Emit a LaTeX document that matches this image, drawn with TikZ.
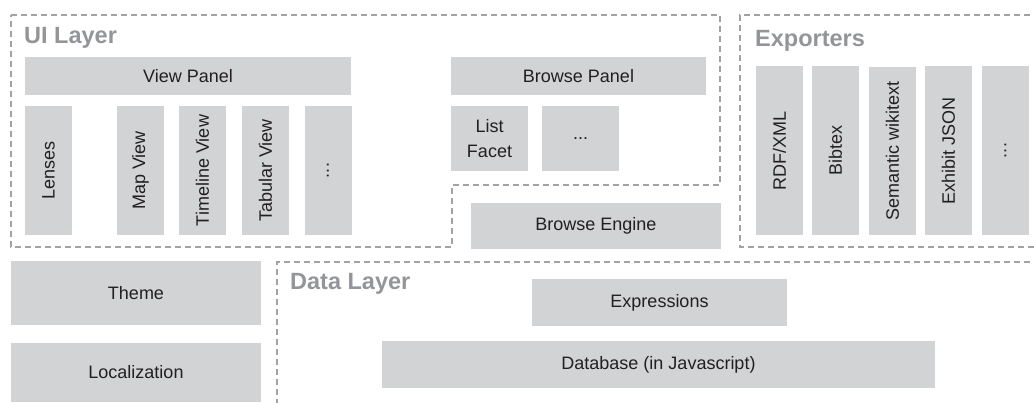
\documentclass[tikz,border=0pt]{standalone}
\usepackage{fontspec}
\setmainfont{Liberation Sans}
\definecolor{boxgray}{HTML}{D1D3D4}
\definecolor{textdark}{HTML}{231F20}
\definecolor{titlegray}{HTML}{939598}
\definecolor{dashgray}{HTML}{A0A2A5}
\begin{document}
\begin{tikzpicture}[x=1pt,y=-1pt,
  box/.style={fill=boxgray, inner sep=0pt, text=textdark, font=\fontsize{18}{21.6}\selectfont, align=center},
  vbox/.style={box, rotate=90},
  layer/.style={draw=dashgray, line width=2.4pt, dash pattern=on 6pt off 4pt},
  title/.style={anchor=base west, inner sep=0pt, text=titlegray, font=\fontsize{23.5}{28}\selectfont\bfseries}]
\useasboundingbox (0,0) rectangle (1034,402);
\clip (0,0) rectangle (1034,402);
% layers
\coordinate (ui1) at (11,15);
\coordinate (ui2) at (720,15);
\coordinate (ui3) at (720,185);
\coordinate (ui4) at (452,185);
\coordinate (ui5) at (452,247);
\coordinate (ui6) at (11,247);
\draw[layer] (ui1) -- (ui2) -- (ui3) -- (ui4) -- (ui5) -- (ui6) -- cycle;
\coordinate (ex1) at (1040,15);
\coordinate (ex2) at (740,15);
\coordinate (ex3) at (740,247);
\coordinate (ex4) at (1040,247);
\draw[layer] (ex1) -- (ex2) -- (ex3) -- (ex4);
\coordinate (dl1) at (277,405);
\coordinate (dl2) at (277,262);
\coordinate (dl3) at (1040,262);
\draw[layer] (dl1) -- (dl2) -- (dl3);
% titles
\node[title] (tui) at (24,43) {UI Layer};
\node[title] (tex) at (755,46) {Exporters};
\node[title] (tdl) at (290,289) {Data Layer};
% UI layer
\node[box, minimum width=326pt, minimum height=38pt] (viewpanel) at (188,76) {View Panel};
\node[vbox, minimum width=129pt, minimum height=47pt] (lenses) at (48.5,170.5) {Lenses};
\node[vbox, minimum width=129pt, minimum height=47pt] (mapview) at (140.5,170.5) {Map View};
\node[vbox, minimum width=129pt, minimum height=47pt] (timeline) at (202.5,170.5) {Timeline View};
\node[vbox, minimum width=129pt, minimum height=47pt] (tabular) at (265.5,170.5) {Tabular View};
\node[vbox, minimum width=129pt, minimum height=47pt] (dotsv) at (328,170.5) {...};
\node[box, minimum width=255pt, minimum height=38pt] (browsepanel) at (578.5,76) {Browse Panel};
\node[box, minimum width=77pt, minimum height=65pt, font=\fontsize{18}{25}\selectfont] (listfacet) at (489.5,138.5) {List\\Facet};
\node[box, minimum width=77pt, minimum height=65pt] (dotsb) at (580.5,138.5) {...};
\node[box, minimum width=250pt, minimum height=46pt] (browseengine) at (596,226) {Browse Engine};
% exporters
\node[vbox, minimum width=169pt, minimum height=47pt] (rdf) at (779.5,150.5) {RDF/XML};
\node[vbox, minimum width=169pt, minimum height=47pt] (bibtex) at (835.5,150.5) {Bibtex};
\node[vbox, minimum width=168pt, minimum height=47pt] (semantic) at (892.5,151) {Semantic wikitext};
\node[vbox, minimum width=169pt, minimum height=47pt] (exhibit) at (948.5,150.5) {Exhibit JSON};
\node[vbox, minimum width=169pt, minimum height=47pt] (dotse) at (1005.5,150.5) {...};
% left column
\node[box, minimum width=250pt, minimum height=64pt] (theme) at (136,293) {Theme};
\node[box, minimum width=250pt, minimum height=59pt] (localization) at (136,372.5) {Localization};
% data layer
\node[box, minimum width=255pt, minimum height=47pt] (expressions) at (659.5,302.5) {Expressions};
\node[box, minimum width=553pt, minimum height=47pt] (database) at (658.5,364.5) {Database (in Javascript)};
\end{tikzpicture}
\end{document}
